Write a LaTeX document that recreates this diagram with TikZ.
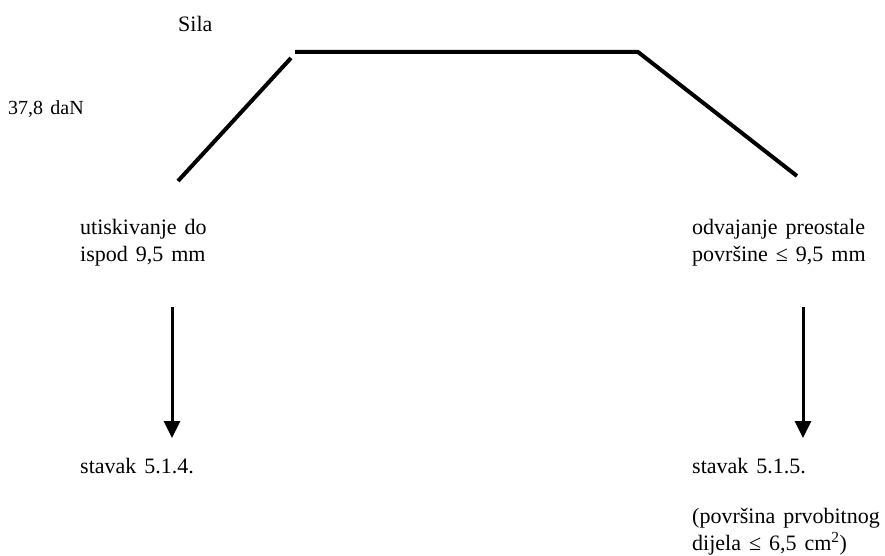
\documentclass[tikz,border=0pt]{standalone}
\usepackage{fontspec}
\setmainfont{Liberation Serif}[WordSpace=1.45]
\usetikzlibrary{arrows.meta}
\begin{document}
\begin{tikzpicture}[x=1pt,y=-1pt,
  lbl/.style={anchor=base west,inner sep=0pt,font=\fontsize{22}{27}\selectfont,align=left},
  small/.style={anchor=base west,inner sep=0pt,font=\fontsize{20}{24}\selectfont},
  curve/.style={line width=4pt,line cap=butt},
  down/.style={line width=3pt,-{Triangle[width=16pt,length=17pt]}}]
\useasboundingbox (0,0) rectangle (885,556);
% force-time profile
\coordinate (l0) at (178,181);
\coordinate (l1) at (291,58);
\coordinate (t0) at (295,52);
\coordinate (t1) at (638,52);
\coordinate (r1) at (797,176);
\draw[curve] (l0) -- (l1);
\draw[curve] (t0) -- (t1) -- (r1);
% labels (base anchor of a two-line node sits on its last line)
\node[lbl] (sila) at (178,32) {Sila};
\node[small] (force) at (8,115) {37,8 daN};
\node[lbl] (lefttxt) at (80,261) {utiskivanje do\\ispod 9,5 mm};
\node[lbl] (righttxt) at (692,261) {odvajanje preostale\\površine ≤ 9,5 mm};
\node[lbl] (leftres) at (80,473) {stavak 5.1.4.};
\node[lbl] (rightres) at (692,473) {stavak 5.1.5.};
\node[lbl] (note) at (692,550) {(površina prvobitnog\\dijela ≤ 6,5 cm\textsuperscript{2})};
% arrows
\coordinate (la) at (172,307);
\coordinate (lb) at (172,438);
\coordinate (ra) at (803,307);
\coordinate (rb) at (803,438);
\draw[down] (la) -- (lb);
\draw[down] (ra) -- (rb);
\end{tikzpicture}
\end{document}
